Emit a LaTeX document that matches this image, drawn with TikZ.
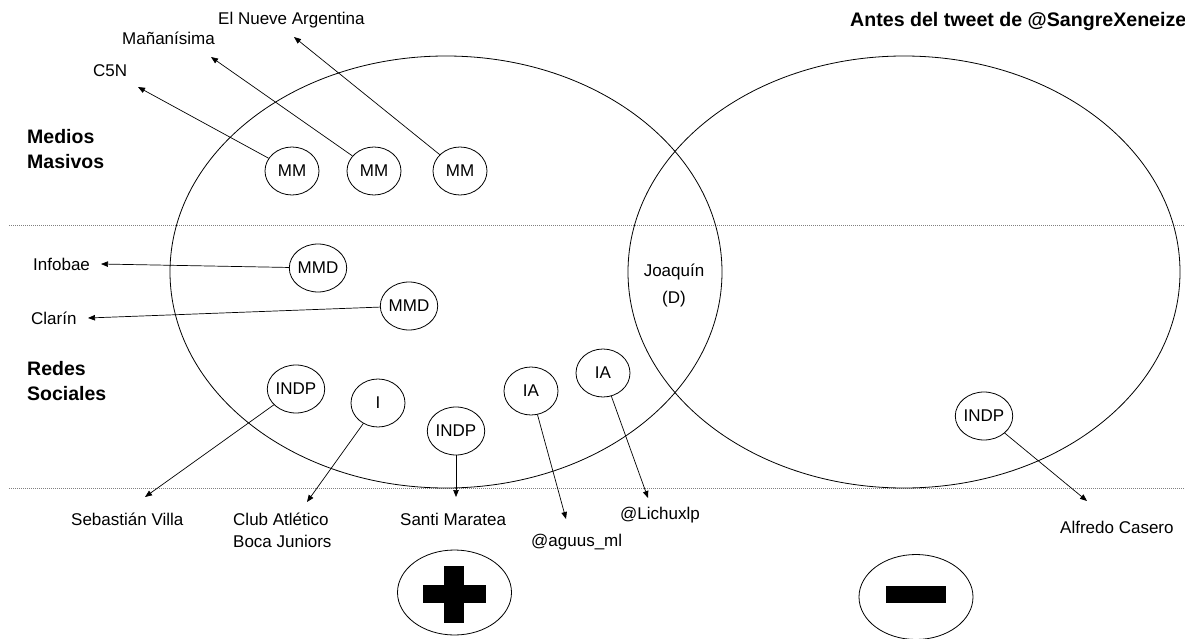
\documentclass[tikz,border=0pt]{standalone}
\usepackage{fontspec}
\setmainfont{Liberation Sans}
\usetikzlibrary{arrows.meta,shapes.geometric}
\tikzset{
  blob/.style={draw, ellipse, line width=0.8pt, minimum width=54pt, minimum height=48pt, inner sep=0pt, font=\fontsize{17}{20}\selectfont},
  lbl/.style={inner sep=0pt, anchor=west, font=\fontsize{17}{20}\selectfont},
  head/.style={inner sep=0pt, anchor=west, align=left, font=\bfseries\fontsize{19.5}{25}\selectfont},
  arr/.style={-{Triangle[length=7pt,width=5.5pt]}, line width=0.7pt},
  sepline/.style={gray, line width=0.8pt, dash pattern=on 1pt off 1pt},
  venn/.style={line width=0.8pt},
  sign/.style={draw, ellipse, line width=0.8pt, minimum width=114pt, minimum height=85pt, inner sep=0pt},
}
\begin{document}
\begin{tikzpicture}[x=1pt,y=-1pt]
\useasboundingbox (0,0) rectangle (1185,639);
\clip (0,0) rectangle (1185,639);

% separators
\draw[sepline] (9,225) -- (1185,225);
\draw[sepline] (9,488) -- (1185,488);

% Venn ellipses
\draw[venn] (446,272) ellipse [x radius=276pt, y radius=216pt];
\draw[venn] (904,272) ellipse [x radius=276pt, y radius=216pt];

% title and section headings
\node[head, anchor=base west, font=\bfseries\fontsize{19.6}{25}\selectfont] (title) at (850,27) {Antes del tweet de @SangreXeneize};
\node[head] (medios) at (27,149.5) {Medios\\Masivos};
\node[head] (redes) at (27,381.5) {Redes\\Sociales};

% mass media
\node[blob] (mm1) at (292,171) {MM};
\node[blob] (mm2) at (374,171) {MM};
\node[blob] (mm3) at (460,171) {MM};
\node[lbl] (c5n) at (93,71) {C5N};
\node[lbl] (manan) at (122,38) {Mañanísima};
\node[lbl] (nueve) at (218,20) {El Nueve Argentina};
\coordinate (tc5n) at (138,87);
\coordinate (tmanan) at (211,57);
\coordinate (tnueve) at (294,37);
\draw[arr] (mm1) -- (tc5n);
\draw[arr] (mm2) -- (tmanan);
\draw[arr] (mm3) -- (tnueve);

% digital media
\node[blob] (mmd1) at (318,268) {MMD};
\node[blob] (mmd2) at (409,306) {MMD};
\node[lbl] (infobae) at (33,264) {Infobae};
\node[lbl] (clarin) at (31,318) {Clarín};
\coordinate (tinfobae) at (101,264);
\coordinate (tclarin) at (88,318);
\draw[arr] (mmd1) -- (tinfobae);
\draw[arr] (mmd2) -- (tclarin);

% intersection
\node[inner sep=0pt, align=center, font=\fontsize{17}{27}\selectfont] (joaquin) at (674,285) {Joaquín\\(D)};

% social networks
\node[blob] (indp1) at (296,389) {INDP};
\node[blob] (ii) at (378,403) {I};
\node[blob] (indp2) at (456,431) {INDP};
\node[blob] (ia1) at (531,391) {IA};
\node[blob] (ia2) at (603,373) {IA};
\node[blob] (indp3) at (984,416) {INDP};

\node[lbl] (villa) at (71,519) {Sebastián Villa};
\node[lbl, align=left, font=\fontsize{17}{22}\selectfont] (boca) at (233,530) {Club Atlético\\Boca Juniors};
\node[lbl] (maratea) at (400,519) {Santi Maratea};
\node[lbl] (aguus) at (531,542) {@aguus\_ml};
\node[lbl] (lichu) at (620,515) {@Lichuxlp};
\node[lbl] (casero) at (1060,527) {Alfredo Casero};

\coordinate (tvilla) at (145,497);
\coordinate (tboca) at (307,502);
\coordinate (tmaratea) at (456,497);
\coordinate (taguus) at (566,519);
\coordinate (tlichu) at (648,498);
\coordinate (tcasero) at (1087,501);
\draw[arr] (indp1) -- (tvilla);
\draw[arr] (ii) -- (tboca);
\draw[arr] (indp2) -- (tmaratea);
\draw[arr] (ia1) -- (taguus);
\draw[arr] (ia2) -- (tlichu);
\draw[arr] (indp3) -- (tcasero);

% plus / minus signs
\node[sign] (plus) at (454.5,592.5) {};
\fill (444,566) rectangle (464,623);
\fill (423,585) rectangle (486,603);
\node[sign] (minus) at (916,597) {};
\fill (886,586) rectangle (946,603);
\end{tikzpicture}
\end{document}
